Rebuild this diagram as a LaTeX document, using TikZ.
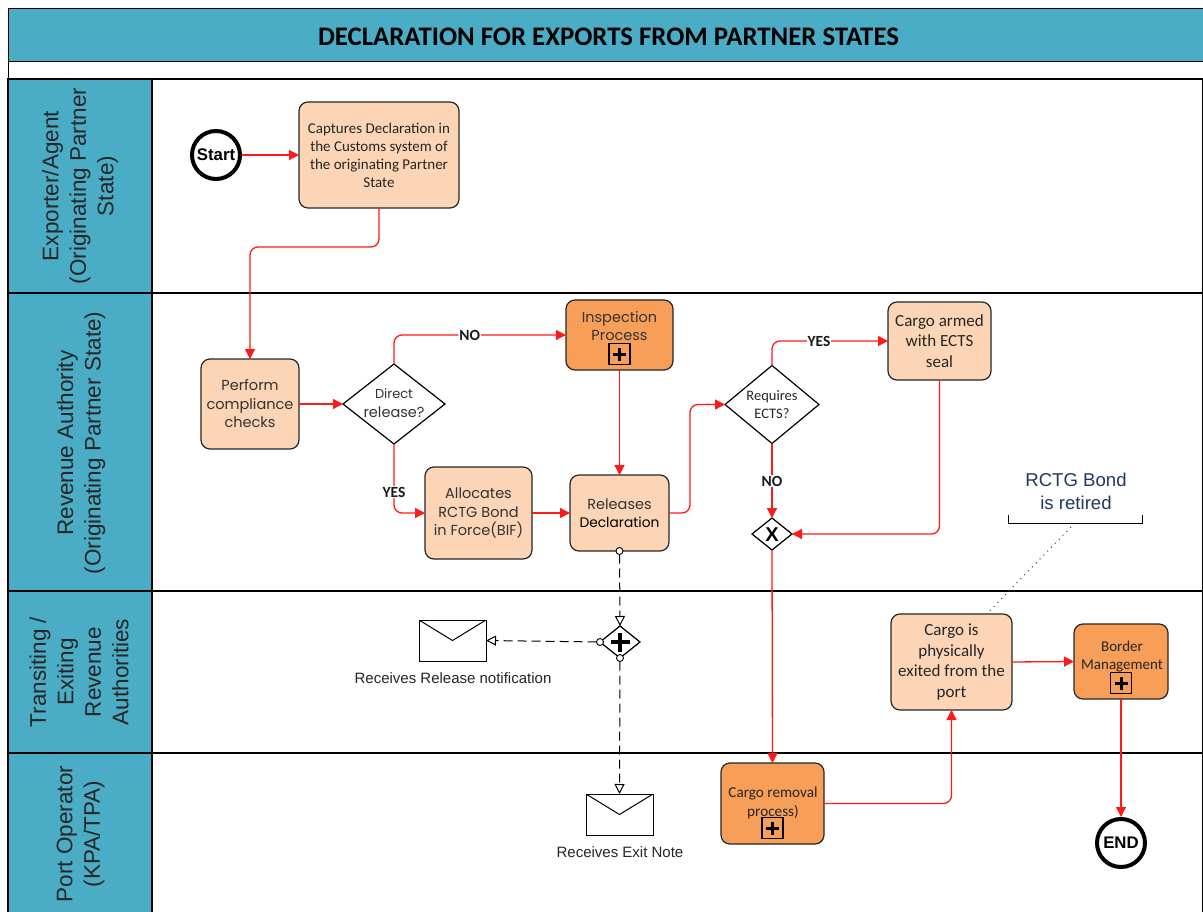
\documentclass[tikz,border=0pt]{standalone}
\usepackage{fontspec}
\setmainfont{Carlito}
\newfontfamily\arialf{Liberation Sans}
\newfontfamily\gothf{Poppins}
\usetikzlibrary{arrows.meta,shapes.geometric,calc}
\definecolor{lanec}{HTML}{4BACC6}
\definecolor{peach}{HTML}{FBD5B5}
\definecolor{orangeb}{HTML}{F79F58}
\definecolor{flowred}{HTML}{FF1A1A}
\definecolor{notec}{HTML}{1F3864}
\definecolor{gotht}{HTML}{333333}
\tikzset{
  x=1pt,y=-1pt,
  lanehead/.style={draw=black,line width=1.4pt,fill=lanec,anchor=north west,minimum width=144pt,inner sep=0pt,outer sep=0pt},
  lanetext/.style={rotate=90,align=center,font=\arialf\fontsize{22.5}{27.5}\selectfont,text=black!85,inner sep=0pt},
  lanebody/.style={draw=black,line width=1.4pt,fill=white,anchor=north west,minimum width=1051pt,inner sep=0pt,outer sep=0pt},
  task/.style={draw=black!85,line width=1.2pt,rounded corners=9pt,align=center,inner sep=0pt,outer sep=0pt,font=\fontsize{15}{18}\selectfont,text=black!85},
  lighttask/.style={task,fill=peach},
  darktask/.style={task,fill=orangeb},
  gothtext/.style={font=\gothf\fontsize{14.5}{18.5}\selectfont,text=gotht},
  gate/.style={diamond,draw=black,line width=1.2pt,fill=white,aspect=1.25,inner sep=0pt,outer sep=0pt,align=center},
  event/.style={circle,draw=black,line width=4pt,fill=white,minimum size=48pt,inner sep=0pt,outer sep=2pt,font=\arialf\bfseries\fontsize{16.8}{18}\selectfont},
  flow/.style={draw=flowred,line width=1.3pt,rounded corners=8pt,-{Triangle[length=10pt,width=10pt,fill=flowred]}},
  msg/.style={draw=black,line width=1pt,dash pattern=on 9pt off 5pt,-{Triangle[open,length=10pt,width=10pt,fill=white]}},
  ring/.style={circle,draw=black,line width=0.9pt,fill=white,minimum size=7pt,inner sep=0pt,outer sep=0pt},
  plusmark/.style 2 args={path picture={\draw[line width=#1] ($(path picture bounding box.center)+(-#2,0)$)--($(path picture bounding box.center)+(#2,0)$);
      \draw[line width=#1] ($(path picture bounding box.center)+(0,-#2)$)--($(path picture bounding box.center)+(0,#2)$);}},
  plusbox/.style={draw=black,line width=1.2pt,minimum size=21pt,inner sep=0pt,outer sep=0pt,plusmark={3pt}{6.5}},
  flowlabel/.style={fill=white,inner sep=1pt,font=\bfseries\fontsize{15.5}{16}\selectfont,text=black!90},
  envelope/.style={draw=black,line width=1pt,fill=white,minimum width=67pt,minimum height=41pt,inner sep=0pt,outer sep=0pt,
    path picture={\draw[line width=1pt] (path picture bounding box.north west)--(path picture bounding box.center)--(path picture bounding box.north east);}},
  evlabel/.style={font=\arialf\fontsize{15}{16}\selectfont,text=black!85,inner sep=0pt},
  note/.style={font=\arialf\fontsize{18.6}{23}\selectfont,text=notec,align=center,inner sep=0pt},
}
\begin{document}
\begin{tikzpicture}
\useasboundingbox[fill=white] (0,0) rectangle (1203,912);
% frame
\node[draw=black,line width=1.4pt,fill=lanec,anchor=north west,minimum width=1195pt,minimum height=53pt,inner sep=0pt] (title) at (8,8) {};
\node[inner sep=0pt,font=\fontsize{26.8}{30}\selectfont\bfseries] (titlet) at (608.5,36.5) {DECLARATION FOR EXPORTS FROM PARTNER STATES};
\node[draw=black,line width=1.4pt,fill=white,anchor=north west,minimum width=1195pt,minimum height=18pt,inner sep=0pt] (strip) at (8,61) {};
% lanes
\node[lanebody,minimum height=214pt] (b1) at (152,79) {};
\node[lanebody,minimum height=298pt] (b2) at (152,293) {};
\node[lanebody,minimum height=162pt] (b3) at (152,591) {};
\node[lanebody,minimum height=170pt] (b4) at (152,753) {};
\node[lanehead,minimum height=214pt] (h1) at (8,79) {};
\node[lanehead,minimum height=298pt] (h2) at (8,293) {};
\node[lanehead,minimum height=162pt] (h3) at (8,591) {};
\node[lanehead,minimum height=170pt] (h4) at (8,753) {};
\node[lanetext] (t1) at (80,186) {Exporter/Agent\\(Originating Partner\\State)};
\node[lanetext] (t2) at (81,443) {Revenue Authority\\(Originating Partner State)};
\node[lanetext] (t3) at (79,672) {Transiting /\\Exiting\\Revenue\\Authorities};
\node[lanetext] (t4) at (80.5,834) {Port Operator\\(KPA/TPA)};
% events
\node[event] (start) at (216,155) {Start};
\node[event] (end) at (1121,843) {END};
% tasks
\node[lighttask,minimum width=160pt,minimum height=106pt] (cap) at (379,155) {Captures Declaration in\\the Customs system of\\the originating Partner\\State};
\node[lighttask,gothtext,minimum width=98pt,minimum height=90pt] (perf) at (250,404) {Perform\\compliance\\checks};
\node[gate,minimum width=102pt,minimum height=80pt] (dir) at (394,404) {};
\node[gothtext,inner sep=0pt,align=center] (dirt) at (394,403) {\fontsize{13}{18}\selectfont Direct\\release?};
\node[darktask,gothtext,minimum width=107pt,minimum height=70pt] (insp) at (619.5,335) {};
\node[gothtext,inner sep=0pt,align=center] (inspt) at (619.5,326) {Inspection\\Process};
\node[plusbox] (inspp) at (619.5,354) {};
\node[lighttask,gothtext,minimum width=107pt,minimum height=92pt] (alloc) at (478.5,513) {Allocates\\RCTG Bond\\in Force(BIF)};
\node[lighttask,gothtext,minimum width=99pt,minimum height=76pt] (rel) at (619.5,513) {Releases\\{\fontsize{13.8}{18.5}\selectfont\color{black}Declaration}};
\node[gate,minimum width=94pt,minimum height=78pt] (req) at (772,404.5) {};
\node[inner sep=0pt,align=center,font=\fontsize{14.5}{18}\selectfont,text=black!85] (reqt) at (772,405) {Requires\\ECTS?};
\node[lighttask,minimum width=103pt,minimum height=78pt,font=\fontsize{17}{20.5}\selectfont] (armed) at (939.5,341) {Cargo armed\\with ECTS\\seal};
\node[gate,minimum width=40pt,minimum height=32pt] (xg) at (772,534) {};
\node[inner sep=0pt,font=\arialf\bfseries\fontsize{20}{20}\selectfont] (xgt) at (772,535) {X};
\node[gate,minimum width=40pt,minimum height=32pt,plusmark={4.5pt}{9.5}] (pg) at (620,642) {};
\node[lighttask,minimum width=121pt,minimum height=96pt,font=\fontsize{17}{20.5}\selectfont] (phys) at (951.5,662) {Cargo is\\physically\\exited from the\\port};
\node[darktask,minimum width=94pt,minimum height=75pt] (bord) at (1121,661.5) {};
\node[inner sep=0pt,align=center,font=\fontsize{15}{18}\selectfont,text=black!85] (bordt) at (1122,657) {Border\\Management};
\node[plusbox] (bordp) at (1121,683) {};
\node[darktask,minimum width=103pt,minimum height=81pt] (rem) at (772.5,803.5) {};
\node[inner sep=0pt,align=center,font=\fontsize{15.2}{19}\selectfont,text=black!85] (remt) at (773,802.5) {Cargo removal\\process)};
\node[plusbox] (remp) at (772.5,828) {};
% envelopes
\node[envelope] (env1) at (452.5,640.5) {};
\node[envelope] (env2) at (619.5,814.5) {};
\node[evlabel] (env1t) at (453,678) {Receives Release notification};
\node[evlabel] (env2t) at (620,852) {Receives Exit Note};
% note
\node[note] (nt) at (1076,491) {RCTG Bond\\is retired};
\coordinate (brl) at (1008.5,515);
\coordinate (brr) at (1142,515);
\coordinate (brm) at (1071,527);
\draw[black,line width=1pt] (brl) -- ++(0,8) -- ($(brr)+(0,8)$) -- (brr);
\draw[black!80,line width=1pt,dash pattern=on 1pt off 4.5pt] (brm) -- ($(phys.north)+(36,-1)$);
% flows
\draw[flow] (start) -- (cap);
\draw[flow] (cap.south) -- (379,247) -- (250,247) -- (perf.north);
\draw[flow] (perf.east) -- (dir.west);
\draw[flow] (dir.north) -- (394,335) -- (insp.west) node[pos=0.44,flowlabel] (no1) {NO};
\draw[flow] (dir.south) -- (394,513) -- (alloc.west);
\node[flowlabel] (yes1) at (394,492) {YES};
\draw[flow] (alloc.east) -- (rel.west);
\draw[flow] (insp.south) -- (rel.north);
\draw[flow] (rel.east) -- (690,513) -- (690,404.5) -- (req.west);
\draw[flow] (req.north) -- (772,341) -- (armed.west);
\node[flowlabel] (yes2) at (819,341) {YES};
\draw[flow] (req.south) -- (xg.north);
\node[flowlabel] (no2) at (772,481) {NO};
\draw[flow] (armed.south) -- (939.5,534) -- (xg.east);
\draw[flow] (xg.south) -- (rem.north);
\draw[flow] (rem.east) -- (951.5,803.5) -- (phys.south);
\draw[flow] (phys.east) -- (bord.west);
\draw[flow] (bord.south) -- (end.north);
% message flows
\node[ring] (r1) at (rel.south) {};
\node[ring] (r2) at (pg.west) {};
\node[ring] (r3) at (pg.south) {};
\draw[msg] (r1) -- (pg.north);
\draw[msg] (r2) -- (env1.east);
\draw[msg] (r3) -- (env2.north);
\end{tikzpicture}
\end{document}
